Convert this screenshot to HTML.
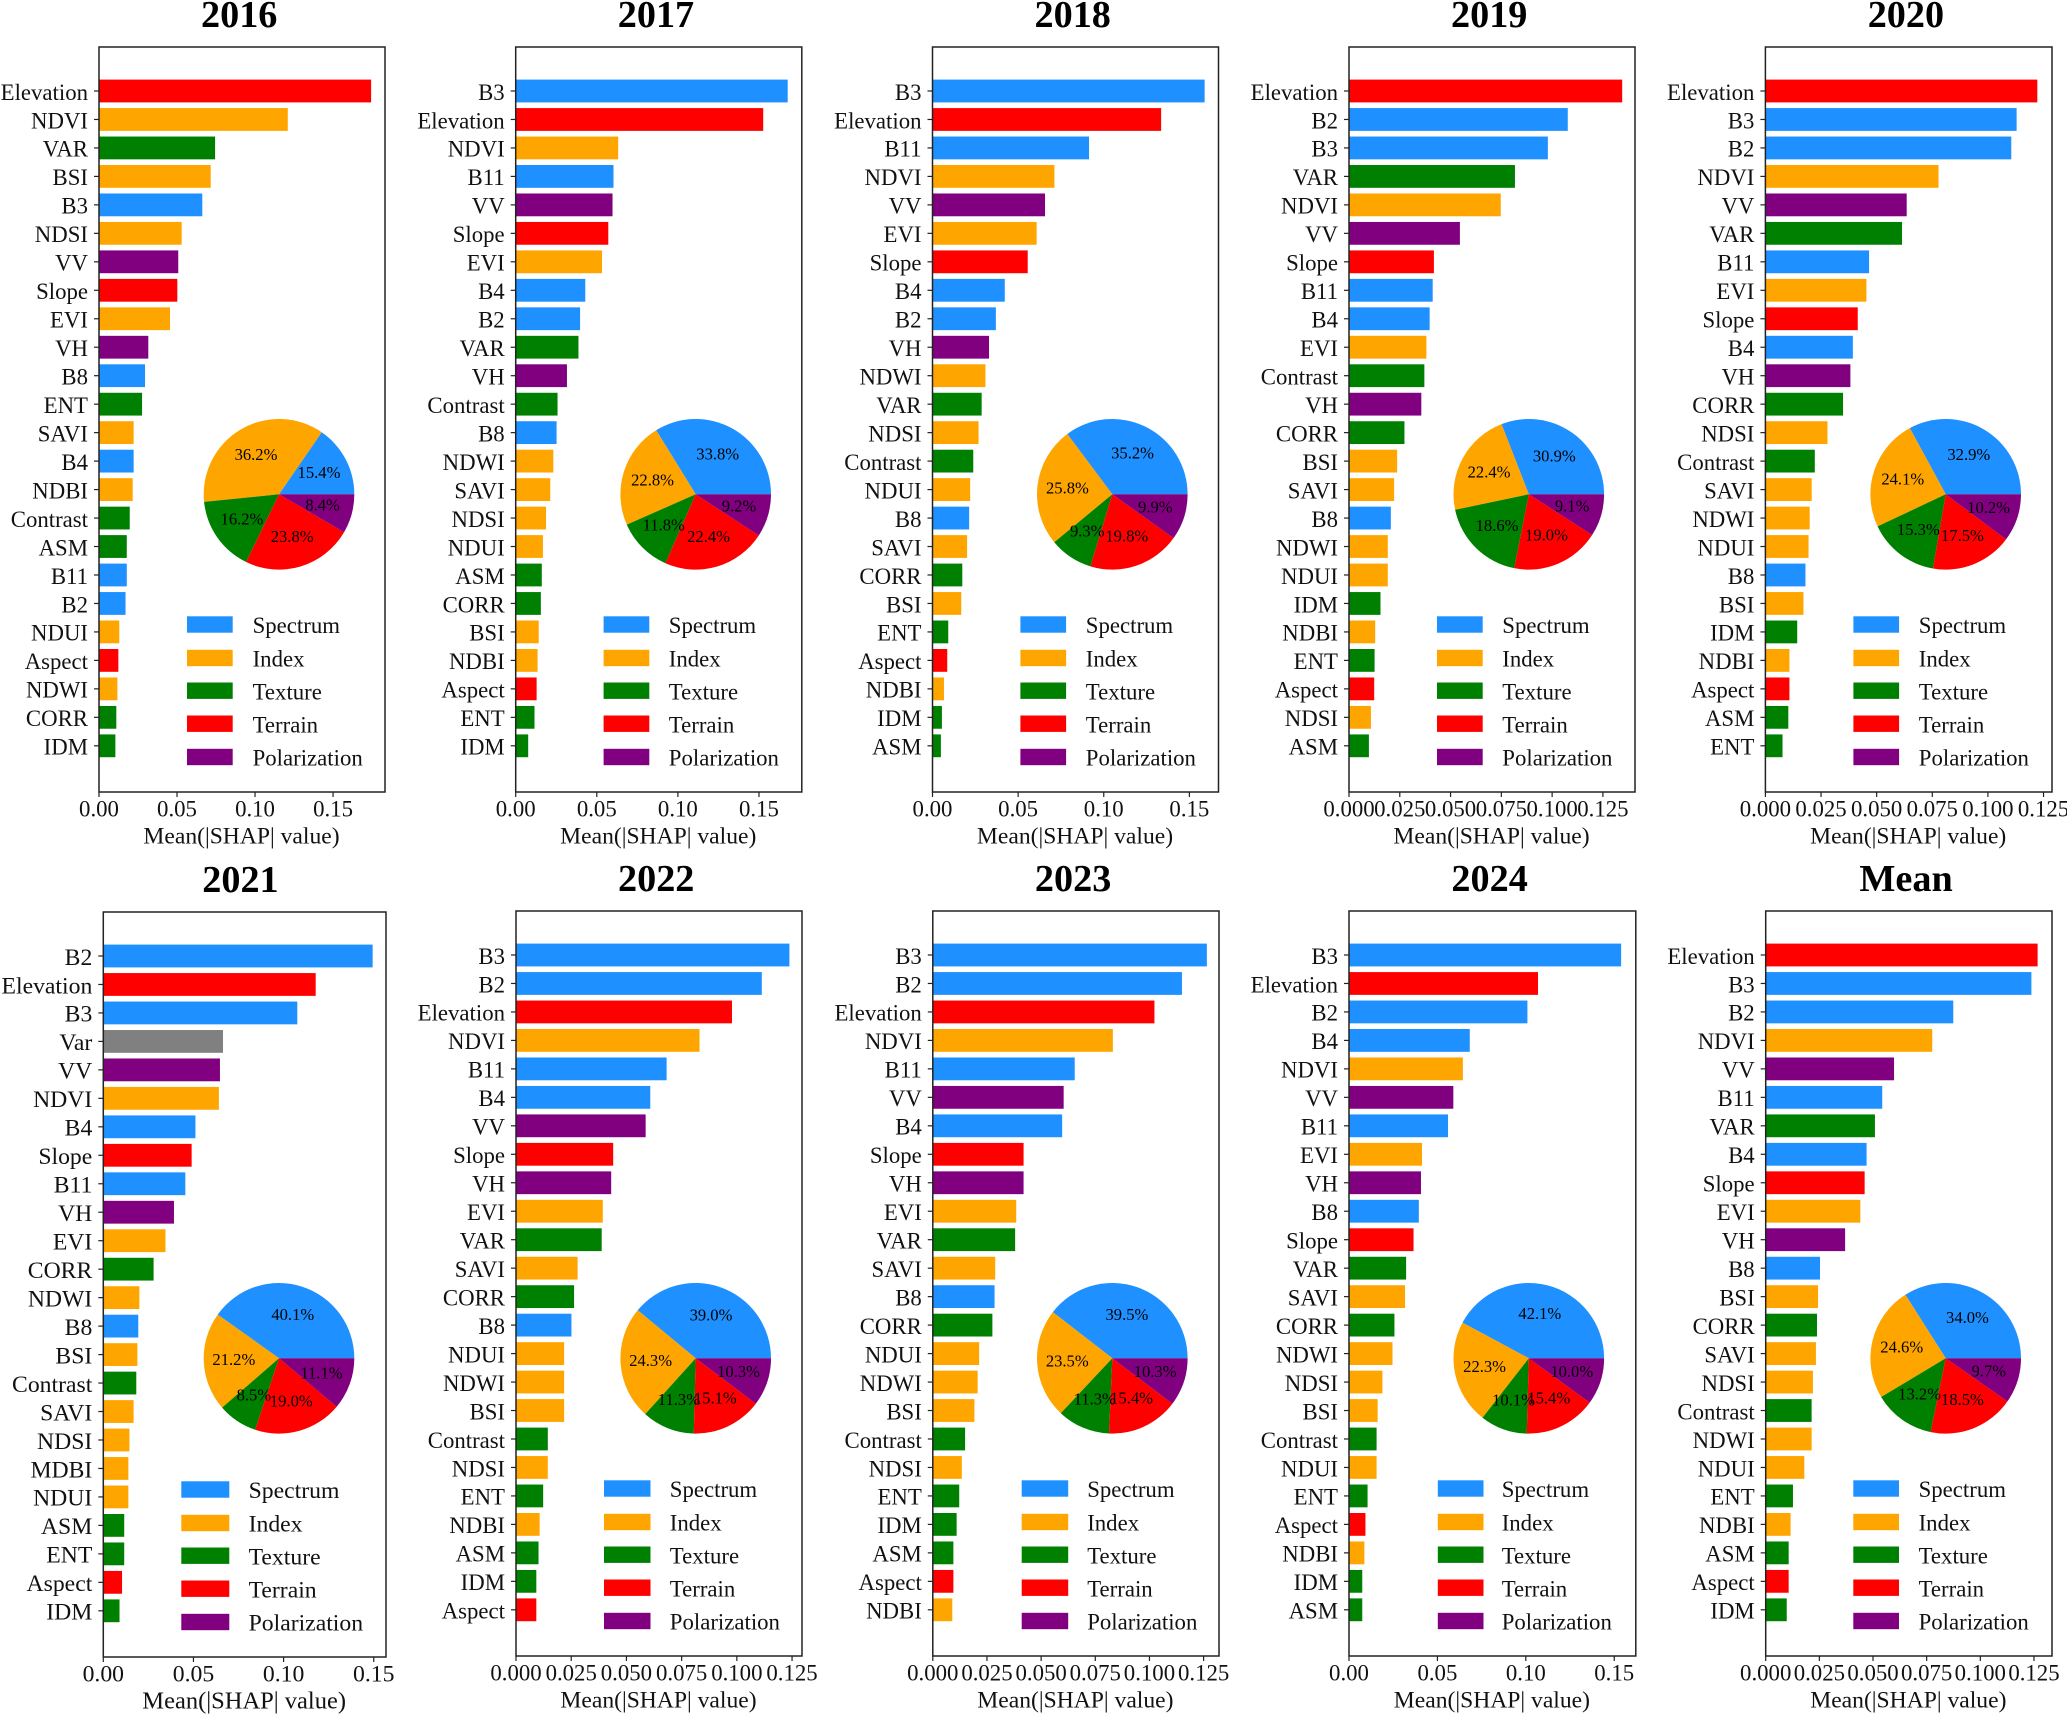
<!DOCTYPE html>
<html lang="en">
<head>
<meta charset="utf-8">
<title>Mean SHAP feature importance by year</title>
<style>
html,body{margin:0;padding:0;background:#fff;}
#figure{display:block;width:2067px;height:1714px;background:#fff;}
text{font-family:"Liberation Serif","Times New Roman",serif;fill:#111;}
</style>
</head>
<body>
<svg id="figure" xmlns="http://www.w3.org/2000/svg" width="2067" height="1714" viewBox="0 0 2067 1714"></svg>
<script>
const labels2016 = ['Elevation','NDVI','VAR','BSI','B3','NDSI','VV','Slope','EVI','VH','B8','ENT','SAVI','B4','NDBI','Contrast','ASM','B11','B2','NDUI','Aspect','NDWI','CORR','IDM'];
const values2016 = [.1744,.121,.0744,.0716,.0662,.053,.0508,.0502,.0455,.0316,.0295,.0276,.0222,.0222,.0216,.0197,.0178,.0178,.017,.013,.0124,.0118,.0111,.0105];
const pie2016 = [15.4,36.2,16.2,23.8,8.4];
const ticks2016 = ['0.00','0.05','0.10','0.15'];

const labels2017 = ['B3','Elevation','NDVI','B11','VV','Slope','EVI','B4','B2','VAR','VH','Contrast','B8','NDWI','SAVI','NDSI','NDUI','ASM','CORR','BSI','NDBI','Aspect','ENT','IDM'];
const values2017 = [.1677,.1526,.0632,.0603,.0597,.0571,.0532,.0429,.0397,.0387,.0316,.0258,.0252,.0232,.0213,.0187,.0168,.0161,.0155,.0142,.0135,.0129,.0116,.0077];
const pie2017 = [33.8,22.8,11.8,22.4,9.2];
const ticks2017 = ['0.00','0.05','0.10','0.15'];

const labels2018 = ['B3','Elevation','B11','NDVI','VV','EVI','Slope','B4','B2','VH','NDWI','VAR','NDSI','Contrast','NDUI','B8','SAVI','CORR','BSI','ENT','Aspect','NDBI','IDM','ASM'];
const values2018 = [.1589,.1335,.0914,.0712,.0657,.0608,.0556,.0422,.037,.033,.0309,.0287,.0269,.0238,.022,.0214,.0202,.0174,.0168,.0092,.0086,.0067,.0055,.0049];
const pie2018 = [35.2,25.8,9.3,19.8,9.9];
const ticks2018 = ['0.00','0.05','0.10','0.15'];

const labels2019 = ['Elevation','B2','B3','VAR','NDVI','VV','Slope','B11','B4','EVI','Contrast','VH','CORR','BSI','SAVI','B8','NDWI','NDUI','IDM','NDBI','ENT','Aspect','NDSI','ASM'];
const values2019 = [.1345,.1077,.0979,.0817,.0747,.0546,.0418,.0412,.0397,.0381,.0371,.0356,.0273,.0237,.0222,.0206,.0191,.0191,.0155,.0129,.0126,.0124,.0108,.0098];
const pie2019 = [30.9,22.4,18.6,19.0,9.1];
const ticks2019 = ['0.000','0.025','0.050','0.075','0.100','0.125'];

const labels2020 = ['Elevation','B3','B2','NDVI','VV','VAR','B11','EVI','Slope','B4','VH','CORR','NDSI','Contrast','SAVI','NDWI','NDUI','B8','BSI','IDM','NDBI','Aspect','ASM','ENT'];
const values2020 = [.1222,.1129,.1105,.0778,.0635,.0614,.0466,.0454,.0415,.0393,.0382,.0349,.0279,.0222,.0208,.0199,.0194,.018,.0171,.0143,.0108,.0108,.0103,.0077];
const pie2020 = [32.9,24.1,15.3,17.5,10.2];
const ticks2020 = ['0.000','0.025','0.050','0.075','0.100','0.125'];

const labels2021 = ['B2','Elevation','B3','Var','VV','NDVI','B4','Slope','B11','VH','EVI','CORR','NDWI','B8','BSI','Contrast','SAVI','NDSI','MDBI','NDUI','ASM','ENT','Aspect','IDM'];
const values2021 = [.1494,.1178,.1076,.0664,.0647,.0641,.0511,.049,.0455,.0392,.0345,.0279,.02,.0194,.0189,.0183,.0168,.0145,.0139,.0139,.0116,.0116,.0104,.009];
const pie2021 = [40.1,21.2,8.5,19.0,11.1];
const ticks2021 = ['0.00','0.05','0.10','0.15'];

const labels2022 = ['B3','B2','Elevation','NDVI','B11','B4','VV','Slope','VH','EVI','VAR','SAVI','CORR','B8','NDUI','NDWI','BSI','Contrast','NDSI','ENT','NDBI','ASM','IDM','Aspect'];
const values2022 = [.1238,.1113,.0978,.0831,.0682,.0608,.0587,.044,.0431,.0393,.0388,.0279,.0263,.0251,.0218,.0218,.0218,.0144,.0144,.0123,.0107,.0102,.0092,.0092];
const pie2022 = [39.0,24.3,11.3,15.1,10.3];
const ticks2022 = ['0.000','0.025','0.050','0.075','0.100','0.125'];

const labels2023 = ['B3','B2','Elevation','NDVI','B11','VV','B4','Slope','VH','EVI','VAR','SAVI','B8','CORR','NDUI','NDWI','BSI','Contrast','NDSI','ENT','IDM','ASM','Aspect','NDBI'];
const values2023 = [.1265,.115,.1023,.0831,.0655,.0604,.0597,.0419,.0419,.0385,.038,.0288,.0285,.0275,.0214,.0207,.0192,.0149,.0134,.0122,.011,.0095,.0095,.009];
const pie2023 = [39.5,23.5,11.3,15.4,10.3];
const ticks2023 = ['0.000','0.025','0.050','0.075','0.100','0.125'];

const labels2024 = ['B3','Elevation','B2','B4','NDVI','VV','B11','EVI','VH','B8','Slope','VAR','SAVI','CORR','NDWI','NDSI','BSI','Contrast','NDUI','ENT','Aspect','NDBI','IDM','ASM'];
const values2024 = [.1539,.1069,.1009,.0683,.0644,.059,.056,.0413,.0407,.0395,.0365,.0323,.0317,.0257,.0246,.0189,.0162,.0156,.0156,.0105,.0093,.0087,.0075,.0075];
const pie2024 = [42.1,22.3,10.1,15.4,10.0];
const ticks2024 = ['0.00','0.05','0.10','0.15'];

const labelsMean = ['Elevation','B3','B2','NDVI','VV','B11','VAR','B4','Slope','EVI','VH','B8','BSI','CORR','SAVI','NDSI','Contrast','NDWI','NDUI','ENT','NDBI','ASM','Aspect','IDM'];
const valuesMean = [.1267,.1238,.0874,.0776,.0598,.0543,.0509,.047,.0461,.0441,.037,.0253,.0244,.0239,.0234,.022,.0214,.0214,.018,.0127,.0116,.0107,.0107,.0098];
const pieMean = [34.0,24.6,13.2,18.5,9.7];
const ticksMean = ['0.000','0.025','0.050','0.075','0.100','0.125'];

const legendLabels = ['Spectrum','Index','Texture','Terrain','Polarization'];
const legendColors = ['#1E90FF','#FFA500','#008000','#FF0000','#800080'];
const spectrumFeatures = ['B2','B3','B4','B8','B11'];
const indexFeatures = ['NDVI','BSI','NDSI','EVI','SAVI','NDBI','MDBI','NDUI','NDWI'];
const textureFeatures = ['VAR','ENT','Contrast','ASM','CORR','IDM'];
const terrainFeatures = ['Elevation','Slope','Aspect'];
const polarizationFeatures = ['VV','VH'];

const panels = [
  {title:'2016',labels:labels2016,values:values2016,pie:pie2016,ticks:ticks2016,xmax:.1833,left:99,right:385,top:47,pieX:279,legendX:187,legendW:45.7,textX:253.3,font:22.8,titleDx:-2.8},
  {title:'2017',labels:labels2017,values:values2017,pie:pie2017,ticks:ticks2017,xmax:.1764,left:515.7,right:801.8,top:47,pieX:695.7,legendX:603.6,legendW:45.7,textX:669.5,font:22.8,titleDx:-2.8},
  {title:'2018',labels:labels2018,values:values2018,pie:pie2018,ticks:ticks2018,xmax:.167,left:932.5,right:1218.5,top:47,pieX:1112.3,legendX:1020.4,legendW:45.7,textX:1086.5,font:22.8,titleDx:-2.8},
  {title:'2019',labels:labels2019,values:values2019,pie:pie2019,ticks:ticks2019,xmax:.1408,left:1349,right:1635,top:47,pieX:1528.8,legendX:1437,legendW:45.7,textX:1503,font:22.8,titleDx:-2.8},
  {title:'2020',labels:labels2020,values:values2020,pie:pie2020,ticks:ticks2020,xmax:.1288,left:1765.4,right:2052,top:47,pieX:1945.7,legendX:1853.4,legendW:45.7,textX:1919.5,font:22.8,titleDx:-2.8},
  {title:'2021',labels:labels2021,values:values2021,pie:pie2021,ticks:ticks2021,xmax:.1568,left:103.3,right:386,top:912,pieX:279,legendX:181.3,legendW:48,textX:249.3,font:23.7,titleDx:-4.2},
  {title:'2022',labels:labels2022,values:values2022,pie:pie2022,ticks:ticks2022,xmax:.1295,left:516,right:802,top:911,pieX:695.7,legendX:604,legendW:46.5,textX:670.5,font:22.8,titleDx:-2.8},
  {title:'2023',labels:labels2023,values:values2023,pie:pie2023,ticks:ticks2023,xmax:.1321,left:932.8,right:1219,top:911,pieX:1112.3,legendX:1021.7,legendW:46.5,textX:1087.9,font:22.8,titleDx:-2.8},
  {title:'2024',labels:labels2024,values:values2024,pie:pie2024,ticks:ticks2024,xmax:.1622,left:1349,right:1635.8,top:911,pieX:1528.8,legendX:1437.8,legendW:45.7,textX:1502.4,font:22.8,titleDx:-2.8},
  {title:'Mean',labels:labelsMean,values:valuesMean,pie:pieMean,ticks:ticksMean,xmax:.1334,left:1765.7,right:2052,top:911,pieX:1945.7,legendX:1853.3,legendW:45.7,textX:1919.3,font:22.8,titleDx:-2.8}
];

const NS = 'http://www.w3.org/2000/svg';
const figure = document.getElementById('figure');
const AXIS_COLOR = '#222';
const PANEL_H = 745;
const FIRST_BAR = 44;
const BAR_STEP = 28.47;
const BAR_H = 22.8;
const PIE_R = 75.3;
const PIE_DY = 447.3;
const LEGEND_ROWS = [577.5, 611, 643.7, 676.7, 710];

function featureColor(name) {
  if (spectrumFeatures.includes(name)) return legendColors[0];
  if (indexFeatures.includes(name)) return legendColors[1];
  if (textureFeatures.includes(name)) return legendColors[2];
  if (terrainFeatures.includes(name)) return legendColors[3];
  if (polarizationFeatures.includes(name)) return legendColors[4];
  return '#808080';
}
function make(tag, parent) {
  const el = document.createElementNS(NS, tag);
  parent.appendChild(el);
  return el;
}
function attrs(el, map) {
  for (const k in map) el.setAttribute(k, map[k]);
}
function slug(s) {
  return String(s).toLowerCase().replace(/[^a-z0-9]+/g, '-');
}

panels.forEach(function (p) {
  const w = p.right - p.left;
  const bottom = p.top + PANEL_H;
  const xScale = function (v) { return p.left + (v / p.xmax) * w; };
  const yScale = function (i) { return p.top + FIRST_BAR + i * BAR_STEP; };
  const tag = slug(p.title);

  const group = make('g', figure);
  
  

  const title = make('text', group);
  attrs(title, {x: (p.left + p.right) / 2 + p.titleDx, y: p.top - 20, 'text-anchor': 'middle', 'font-size': 38.2, 'font-weight': 'bold'});
  title.style.fill = '#000';
  title.textContent = p.title;
  
  

  p.labels.forEach(function (name, i) {
    const cy = yScale(i);
    const bar = make('rect', group);
    attrs(bar, {x: p.left, y: cy - BAR_H / 2, width: Math.max(0, xScale(p.values[i]) - p.left), height: BAR_H, fill: featureColor(name)});
    
    

    const tick = make('line', group);
    attrs(tick, {x1: p.left - 5, x2: p.left, y1: cy, y2: cy, stroke: AXIS_COLOR, 'stroke-width': 1.2});
    
    

    const label = make('text', group);
    attrs(label, {x: p.left - 11, y: cy + 8.8, 'text-anchor': 'end', 'font-size': p.font});
    label.textContent = name;
    
    
  });

  const frame = make('rect', group);
  attrs(frame, {x: p.left, y: p.top, width: w, height: PANEL_H, fill: 'none', stroke: AXIS_COLOR, 'stroke-width': 1.5});
  
  

  p.ticks.forEach(function (t) {
    const px = xScale(parseFloat(t));
    const tick = make('line', group);
    attrs(tick, {x1: px, x2: px, y1: bottom, y2: bottom + 5, stroke: AXIS_COLOR, 'stroke-width': 1.2});
    
    

    const label = make('text', group);
    attrs(label, {x: px, y: bottom + 24.5, 'text-anchor': 'middle', 'font-size': p.font});
    label.textContent = t;
    
    
  });

  const xTitle = make('text', group);
  attrs(xTitle, {x: (p.left + p.right) / 2 - 0.5, y: bottom + 51.5, 'text-anchor': 'middle', 'font-size': p.font + 0.8});
  xTitle.textContent = 'Mean(|SHAP| value)';
  
  

  const pieCy = (p.top < 100 ? 47 : 911) + PIE_DY;
  const total = p.pie.reduce(function (a, b) { return a + b; }, 0);
  let cumulative = 0;
  p.pie.forEach(function (share, i) {
    const a0 = cumulative / total * 2 * Math.PI;
    cumulative += share;
    const a1 = cumulative / total * 2 * Math.PI;
    const large = a1 - a0 > Math.PI ? 1 : 0;
    const slice = make('path', group);
    attrs(slice, {
      d: 'M' + p.pieX + ' ' + pieCy +
         'L' + (p.pieX + PIE_R * Math.cos(a0)) + ' ' + (pieCy - PIE_R * Math.sin(a0)) +
         'A' + PIE_R + ' ' + PIE_R + ' 0 ' + large + ' 0 ' + (p.pieX + PIE_R * Math.cos(a1)) + ' ' + (pieCy - PIE_R * Math.sin(a1)) + 'Z',
      fill: legendColors[i]
    });
    
    
  });
  cumulative = 0;
  p.pie.forEach(function (share, i) {
    const a0 = cumulative / total * 2 * Math.PI;
    cumulative += share;
    const a1 = cumulative / total * 2 * Math.PI;
    const mid = (a0 + a1) / 2;
    const pct = make('text', group);
    attrs(pct, {x: p.pieX + 0.6 * PIE_R * Math.cos(mid), y: pieCy - 0.6 * PIE_R * Math.sin(mid) + 4.5, 'text-anchor': 'middle', 'font-size': 16.6});
    pct.style.fill = '#000';
    pct.textContent = share.toFixed(1) + '%';
    
    
  });

  legendLabels.forEach(function (name, i) {
    const cy = p.top + LEGEND_ROWS[i];
    const patch = make('rect', group);
    attrs(patch, {x: p.legendX, y: cy - 8.2, width: p.legendW, height: 16.4, fill: legendColors[i]});
    
    

    const text = make('text', group);
    attrs(text, {x: p.textX - 0.7, y: cy + 8.6, 'font-size': p.font});
    text.textContent = name;
    
    
  });
});
</script>
</body>
</html>
